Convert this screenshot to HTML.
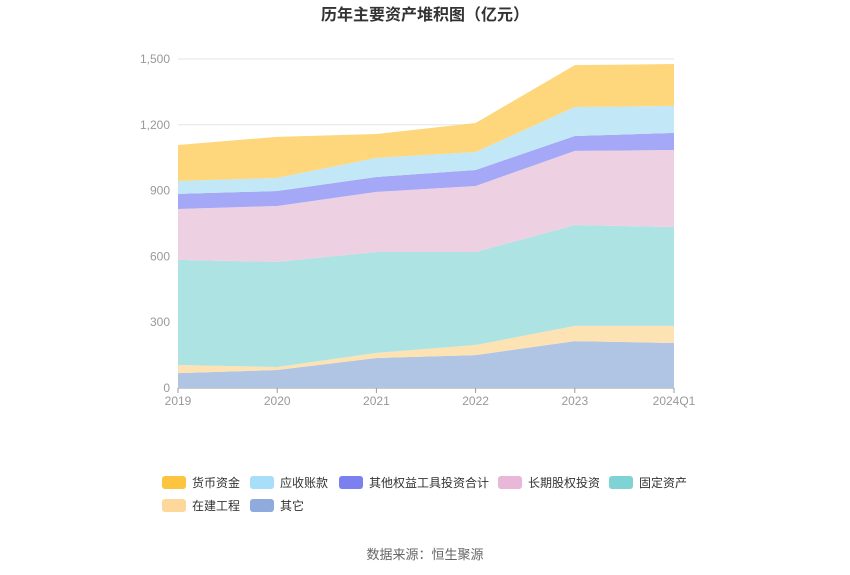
<!DOCTYPE html>
<html><head><meta charset="utf-8"><style>
body{margin:0;background:#fff;font-family:"Liberation Sans","Noto Sans CJK SC",sans-serif;}
#wrap{position:relative;width:850px;height:575px;overflow:hidden}
</style></head><body>
<div id="wrap">
<svg id="chart" width="850" height="575" xmlns="http://www.w3.org/2000/svg">
<text x="425" y="20" text-anchor="middle" font-size="16" font-weight="bold" fill="#333">历年主要资产堆积图（亿元）</text>
<g id="grid"></g><g id="areas"></g><g id="axes"></g><g id="legend"></g>
<text x="425" y="559" text-anchor="middle" font-size="13" fill="#666">数据来源：恒生聚源</text>
</svg></div>
<script>
const categories=["2019","2020","2021","2022","2023","2024Q1"];
const seriesNames=["其它","在建工程","固定资产","长期股权投资","其他权益工具投资合计","应收账款","货币资金"];
const other=[68,82,137,150,214,205];
const construction=[37,14,23,46,69,78];
const fixedAssets=[479,479,460,424,460,451];
const equityInvest=[232,255,274,301,338,351];
const otherEquity=[69,68,68,73,68,78];
const receivables=[59,60,87,82,132,123];
const cash=[164,187,109,132,191,191];
const yTicks=[0,300,600,900,1200,1500];
const seriesData=[other,construction,fixedAssets,equityInvest,otherEquity,receivables,cash];
const fills=["#b0c4e4","#fde3b4","#aee3e3","#eed0e3","#a4a8f6","#c2e8f8","#fed67c"];
const legendColors=["#8faadc","#fdd89a","#7fd3d4","#e9b8d8","#7b7ff0","#a7dffa","#fcc43f"];
const NS="http://www.w3.org/2000/svg";
const x0=178,x1=674,y0=388,y1=59;
const xs=i=>x0+(x1-x0)*i/(categories.length-1);
const ys=v=>y0-(y0-y1)*v/1500;
const grid=document.getElementById('grid'),areas=document.getElementById('areas'),axes=document.getElementById('axes'),legend=document.getElementById('legend');
function mk(t,a,p){const e=document.createElementNS(NS,t);for(const k in a)e.setAttribute(k,a[k]);p.appendChild(e);return e;}
yTicks.forEach(v=>{
 const l=mk('line',{x1:x0,x2:x1,y1:ys(v),y2:ys(v),stroke:v===0?'#999':'#e6e6e6'},grid);
 
 
 const t=mk('text',{x:x0-8,y:ys(v)+4,'text-anchor':'end','font-size':12,fill:'#999'},axes);
 t.textContent=v.toLocaleString('en-US');
 
 
});
categories.forEach((c,i)=>{
 const t=mk('text',{x:xs(i),y:y0+17,'text-anchor':'middle','font-size':12,fill:'#999'},axes);
 t.textContent=c;
 
 
 const tk=mk('line',{x1:xs(i),x2:xs(i),y1:y0,y2:y0+5,stroke:'#999'},axes);
 
 
});
let base=categories.map(()=>0);
seriesData.forEach((s,k)=>{
 const top=base.map((b,i)=>b+s[i]);
 let d='M'+top.map((v,i)=>xs(i)+','+ys(v)).join(' L');
 for(let i=base.length-1;i>=0;i--)d+=' L'+xs(i)+','+ys(base[i]);
 const p=mk('path',{d:d+'Z',fill:fills[k]},areas);
 
 
 base=top;
});
const legendOrder=[6,5,4,3,2,1,0];
const pos=[[162,482],[250,482],[339,482],[498,482],[609,482],[162,505],[250,505]];
legendOrder.forEach((k,j)=>{
 const [lx,ly]=pos[j];
 const g=mk('g',{},legend);
 
 
 mk('rect',{x:lx,y:ly-6,width:24,height:13,rx:3,fill:legendColors[k]},g);
 const t=mk('text',{x:lx+30,y:ly+5,'font-size':12,fill:'#333'},g);
 t.textContent=seriesNames[k];
});
</script>
</body></html>
